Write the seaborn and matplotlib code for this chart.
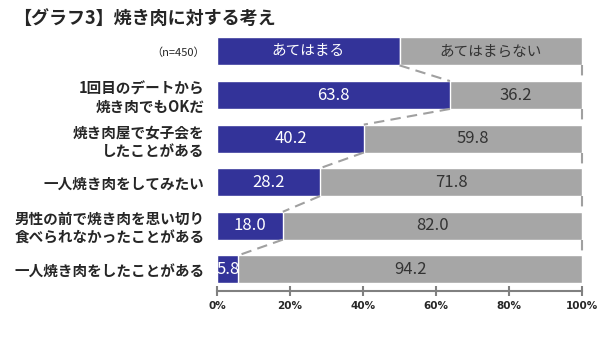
import numpy as np
import pandas as pd
import seaborn as sns
import matplotlib.pyplot as plt

# data
categories = ["1回目のデートから\n焼き肉でもOKだ",
              "焼き肉屋で女子会を\nしたことがある",
              "一人焼き肉をしてみたい",
              "男性の前で焼き肉を思い切り\n食べられなかったことがある",
              "一人焼き肉をしたことがある"]
agree = [63.8, 40.2, 28.2, 18.0, 5.8]
disagree = [36.2, 59.8, 71.8, 82.0, 94.2]
legend_labels = ["あてはまる", "あてはまらない"]
legend_split = 50
sample_note = "（n=450）"
title = "【グラフ3】焼き肉に対する考え"

blue = "#333399"
gray = "#A6A6A6"
dash_col = "#A0A0A0"

sns.set_theme(style="white")
plt.rcParams['font.family'] = ['Noto Sans CJK JP', 'DejaVu Sans']

df = pd.DataFrame({"item": categories, "agree": agree, "disagree": disagree})
df["total"] = df["agree"] + df["disagree"]

fig, ax = plt.subplots(figsize=(6.1, 3.58), dpi=100)
fig.subplots_adjust(left=0.356, right=0.954, top=0.905, bottom=0.187)

bw = 0.64
sns.barplot(data=df, x="total", y="item", color=gray, width=bw, saturation=1,
            errorbar=None, ax=ax)
sns.barplot(data=df, x="agree", y="item", color=blue, width=bw, saturation=1,
            errorbar=None, edgecolor="white", linewidth=1, ax=ax)

# legend-like header bar
ax.barh(-1, legend_split, height=bw, color=blue, edgecolor="white", linewidth=1)
ax.barh(-1, 100 - legend_split, left=legend_split, height=bw, color=gray)
ax.text(legend_split / 2, -1, legend_labels[0], ha="center", va="center",
        color="white", fontsize=10.5)
ax.text((legend_split + 100) / 2, -1, legend_labels[1], ha="center", va="center",
        color="#333333", fontsize=10.5)

# value labels
for i, (a, d) in enumerate(zip(agree, disagree)):
    ax.text(a / 2, i, f"{a:.1f}", ha="center", va="center", color="white",
            fontsize=12, clip_on=True)
    ax.text(a + d / 2, i, f"{d:.1f}", ha="center", va="center", color="#333333",
            fontsize=12)

# dashed connectors
prev = [legend_split] + agree
h = bw / 2
for i in range(len(agree)):
    ax.plot([prev[i], prev[i + 1]], [i - 1 + h, i - h], ls=(0, (5, 3)),
            color=dash_col, lw=1.5, zorder=1)
    ax.plot([100, 100], [i - 1 + h, i - h], ls=(0, (5, 3)),
            color=dash_col, lw=1.5, zorder=1, clip_on=False)

ax.set_xlim(0, 100)
ax.set_ylim(4.5, -1.4)
ax.set_xlabel("")
ax.set_ylabel("")
ax.set_xticks(np.arange(0, 101, 20))
ax.set_xticklabels([f"{t}%" for t in range(0, 101, 20)], fontsize=7.5,
                   fontweight="bold", family="DejaVu Sans")
ax.set_yticks(range(-1, len(categories)))
ax.set_yticklabels([sample_note] + categories, fontsize=10.5, fontweight="bold",
                   linespacing=1.2)
ax.get_yticklabels()[0].set_fontsize(8)
ax.get_yticklabels()[0].set_fontweight("normal")
ax.tick_params(axis="y", length=0, pad=9)
ax.tick_params(axis="x", direction="inout", length=7, width=1.5,
               color="#808080", pad=4, bottom=True)

sns.despine(ax=ax, left=True, top=True, right=True)
ax.spines["bottom"].set_color("#808080")
ax.spines["bottom"].set_linewidth(1.5)

fig.text(0.022, 0.948, title, fontsize=13, fontweight="bold", va="center")

fig.savefig("out.png", dpi=100)
